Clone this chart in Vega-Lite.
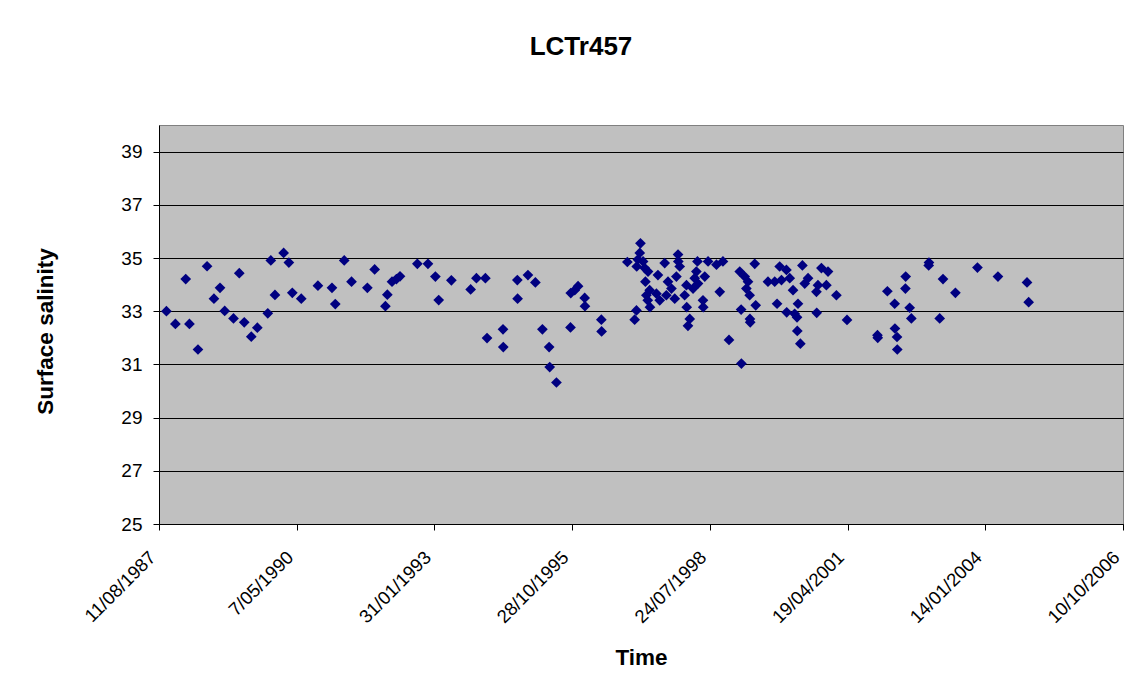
{
  "$schema": "https://vega.github.io/schema/vega-lite/v6.json",
  "autosize": {"type": "none"},
  "width": 964,
  "height": 399,
  "padding": {"left": 159, "top": 125, "right": 10, "bottom": 168},
  "background": "white",
  "title": {"text": "LCTr457", "font": "Liberation Sans", "fontSize": 26, "fontWeight": "bold", "color": "black", "anchor": "middle", "dx": -60, "offset": 65},
  "config": {
    "view": {"stroke": "#808080", "strokeWidth": 1, "fill": "#C0C0C0"},
    "font": "Liberation Sans"
  },
  "data": {"values": [
    {"date":"1987-10-04","salinity":33.00},{"date":"1987-12-08","salinity":32.52},{"date":"1988-02-21","salinity":34.21},{"date":"1988-03-19","salinity":32.52},{"date":"1988-05-20","salinity":31.56},{"date":"1988-07-25","salinity":34.69},{"date":"1988-10-27","salinity":33.88},{"date":"1988-09-13","salinity":33.47},{"date":"1988-11-30","salinity":33.01},{"date":"1989-02-02","salinity":32.73},{"date":"1989-03-16","salinity":34.43},{"date":"1989-04-21","salinity":32.58},{"date":"1989-07-25","salinity":32.38},{"date":"1989-06-11","salinity":32.04},{"date":"1989-10-09","salinity":32.92},{"date":"1989-10-31","salinity":34.91},{"date":"1989-11-30","salinity":33.61},{"date":"1990-02-01","salinity":35.19},{"date":"1990-03-11","salinity":34.83},{"date":"1990-04-05","salinity":33.69},{"date":"1990-06-09","salinity":33.47},{"date":"1990-10-08","salinity":33.96},
    {"date":"1991-01-18","salinity":33.88},{"date":"1991-02-11","salinity":33.27},{"date":"1991-04-17","salinity":34.91},{"date":"1991-06-09","salinity":34.11},{"date":"1991-10-02","salinity":33.88},{"date":"1991-11-24","salinity":34.57},{"date":"1992-02-24","salinity":33.62},{"date":"1992-02-10","salinity":33.19},{"date":"1992-03-29","salinity":34.11},{"date":"1992-04-30","salinity":34.21},{"date":"1992-05-26","salinity":34.31},{"date":"1992-09-29","salinity":34.78},{"date":"1992-12-15","salinity":34.78},{"date":"1993-02-07","salinity":34.30},{"date":"1993-03-03","salinity":33.42},{"date":"1993-06-03","salinity":34.16},{"date":"1993-10-21","salinity":33.82},{"date":"1993-12-02","salinity":34.24},
    {"date":"1994-02-05","salinity":34.24},{"date":"1994-02-17","salinity":31.99},{"date":"1994-06-13","salinity":32.32},{"date":"1994-06-15","salinity":31.65},{"date":"1994-09-25","salinity":34.17},{"date":"1994-09-27","salinity":33.47},{"date":"1994-12-11","salinity":34.36},{"date":"1995-02-03","salinity":34.08},{"date":"1995-03-26","salinity":32.32},{"date":"1995-05-14","salinity":31.65},{"date":"1995-05-18","salinity":30.90},{"date":"1995-07-06","salinity":30.32},{"date":"1995-10-18","salinity":33.68},{"date":"1995-10-16","salinity":32.39},{"date":"1995-11-16","salinity":33.79},{"date":"1995-12-10","salinity":33.94},{"date":"1996-01-27","salinity":33.50},{"date":"1996-01-29","salinity":33.19},{"date":"1996-05-27","salinity":32.68},{"date":"1996-05-29","salinity":32.24},{"date":"1996-12-02","salinity":34.85},
    {"date":"1997-01-24","salinity":32.68},{"date":"1997-02-06","salinity":33.03},{"date":"1997-02-08","salinity":34.68},{"date":"1997-03-07","salinity":35.55},{"date":"1997-03-02","salinity":35.19},{"date":"1997-02-16","salinity":34.94},{"date":"1997-03-26","salinity":34.87},{"date":"1997-04-07","salinity":34.62},{"date":"1997-05-01","salinity":34.49},{"date":"1997-04-12","salinity":34.11},{"date":"1997-05-13","salinity":33.79},{"date":"1997-04-19","salinity":33.60},{"date":"1997-04-29","salinity":33.41},{"date":"1997-05-15","salinity":33.15},{"date":"1997-07-01","salinity":33.66},{"date":"1997-07-12","salinity":34.36},{"date":"1997-07-25","salinity":33.41},{"date":"1997-08-30","salinity":34.81},{"date":"1997-09-11","salinity":33.60},{"date":"1997-09-23","salinity":34.11},{"date":"1997-10-18","salinity":33.85},{"date":"1997-11-11","salinity":33.47},{"date":"1997-11-23","salinity":34.30},{"date":"1997-12-05","salinity":35.13},{"date":"1997-12-07","salinity":34.87},{"date":"1997-12-17","salinity":34.68},
    {"date":"1998-01-22","salinity":33.60},{"date":"1998-02-04","salinity":33.98},{"date":"1998-02-06","salinity":33.15},{"date":"1998-02-28","salinity":32.71},{"date":"1998-02-15","salinity":32.45},{"date":"1998-03-24","salinity":33.85},{"date":"1998-04-05","salinity":34.24},{"date":"1998-04-17","salinity":34.49},{"date":"1998-04-25","salinity":34.87},{"date":"1998-04-29","salinity":34.04},{"date":"1998-06-04","salinity":33.41},{"date":"1998-06-06","salinity":33.15},{"date":"1998-06-17","salinity":34.30},{"date":"1998-07-11","salinity":34.87},{"date":"1998-09-10","salinity":34.75},{"date":"1998-10-04","salinity":33.73},{"date":"1998-10-27","salinity":34.87},{"date":"1998-12-10","salinity":31.92},
    {"date":"1999-02-26","salinity":34.49},{"date":"1999-03-10","salinity":31.03},{"date":"1999-03-08","salinity":33.06},{"date":"1999-04-03","salinity":34.30},{"date":"1999-04-27","salinity":34.11},{"date":"1999-04-15","salinity":33.85},{"date":"1999-05-09","salinity":33.60},{"date":"1999-05-11","salinity":32.71},{"date":"1999-05-13","salinity":32.58},{"date":"1999-06-15","salinity":34.78},{"date":"1999-06-22","salinity":33.22},{"date":"1999-09-19","salinity":34.11},{"date":"1999-11-07","salinity":34.11},{"date":"1999-12-13","salinity":34.68},{"date":"1999-12-26","salinity":34.17},{"date":"2000-01-31","salinity":34.55},{"date":"2000-02-24","salinity":34.24},{"date":"1999-11-24","salinity":33.28},{"date":"2000-02-02","salinity":32.96},{"date":"2000-03-19","salinity":33.79},{"date":"2000-03-31","salinity":32.90},{"date":"2000-04-24","salinity":33.28},{"date":"2000-04-17","salinity":32.77},{"date":"2000-04-19","salinity":32.26},{"date":"2000-05-11","salinity":31.78},{"date":"2000-05-26","salinity":34.72},{"date":"2000-06-12","salinity":34.04},{"date":"2000-07-06","salinity":34.24},{"date":"2000-09-05","salinity":33.73},{"date":"2000-09-07","salinity":32.94},{"date":"2000-10-11","salinity":34.62},{"date":"2000-11-28","salinity":34.49},{"date":"2000-11-16","salinity":33.98},{"date":"2000-09-16","salinity":33.98},{"date":"2001-01-28","salinity":33.60},{"date":"2001-04-15","salinity":32.67},
    {"date":"2001-11-22","salinity":32.10},{"date":"2001-11-24","salinity":32.00},{"date":"2002-02-02","salinity":33.75},{"date":"2002-03-27","salinity":33.28},{"date":"2002-03-29","salinity":32.35},{"date":"2002-04-13","salinity":32.03},{"date":"2002-04-15","salinity":31.56},{"date":"2002-06-15","salinity":34.30},{"date":"2002-06-13","salinity":33.85},{"date":"2002-07-14","salinity":33.13},{"date":"2002-07-26","salinity":32.73},{"date":"2002-12-01","salinity":34.83},{"date":"2002-11-29","salinity":34.72},{"date":"2003-03-13","salinity":34.21},{"date":"2003-02-17","salinity":32.73},{"date":"2003-06-11","salinity":33.69},{"date":"2003-11-18","salinity":34.64},{"date":"2004-04-15","salinity":34.30},{"date":"2004-11-12","salinity":34.08},{"date":"2004-11-24","salinity":33.34}
  ]},
  "mark": {"type": "point", "shape": "diamond", "filled": true, "size": 115, "color": "#000080", "opacity": 1},
  "encoding": {
    "x": {
      "field": "date", "type": "temporal",
      "scale": {"type": "utc", "domain": [{"year": 1987, "month": 8, "date": 11, "utc": true}, {"year": 2006, "month": 10, "date": 10, "utc": true}], "nice": false},
      "axis": {
        "title": "Time", "titleFont": "Liberation Sans", "titleFontSize": 22.5, "titleFontWeight": "bold", "titleColor": "black", "titlePadding": 20,
        "values": [
          {"year": 1987, "month": 8, "date": 11, "utc": true},
          {"year": 1990, "month": 5, "date": 7, "utc": true},
          {"year": 1993, "month": 1, "date": 31, "utc": true},
          {"year": 1995, "month": 10, "date": 28, "utc": true},
          {"year": 1998, "month": 7, "date": 24, "utc": true},
          {"year": 2001, "month": 4, "date": 19, "utc": true},
          {"year": 2004, "month": 1, "date": 14, "utc": true},
          {"year": 2006, "month": 10, "date": 10, "utc": true}
        ],
        "labelExpr": "utcFormat(datum.value, '%-d/%m/%Y')",
        "labelAngle": -45, "labelAlign": "right", "labelBaseline": "middle", "labelPadding": 24, "labelOffset": -7,
        "labelFont": "Liberation Sans", "labelFontSize": 18.5, "labelColor": "black", "labelOverlap": false, "labelFlush": false,
        "grid": false, "domainColor": "black", "domainWidth": 1, "tickColor": "black", "tickSize": 6, "ticks": true
      }
    },
    "y": {
      "field": "salinity", "type": "quantitative",
      "scale": {"domain": [25, 40], "nice": false, "zero": false},
      "axis": {
        "title": "Surface salinity", "titleFont": "Liberation Sans", "titleFontSize": 22.5, "titleFontWeight": "bold", "titleColor": "black", "titlePadding": 63, "titleY": 206,
        "values": [25, 27, 29, 31, 33, 35, 37, 39],
        "labelFont": "Liberation Sans", "labelFontSize": 19, "labelColor": "black", "labelPadding": 11,
        "grid": true, "gridColor": "black", "gridWidth": 1, "gridOpacity": 1,
        "domainColor": "black", "domainWidth": 1, "tickColor": "black", "tickSize": 6
      }
    }
  }
}
